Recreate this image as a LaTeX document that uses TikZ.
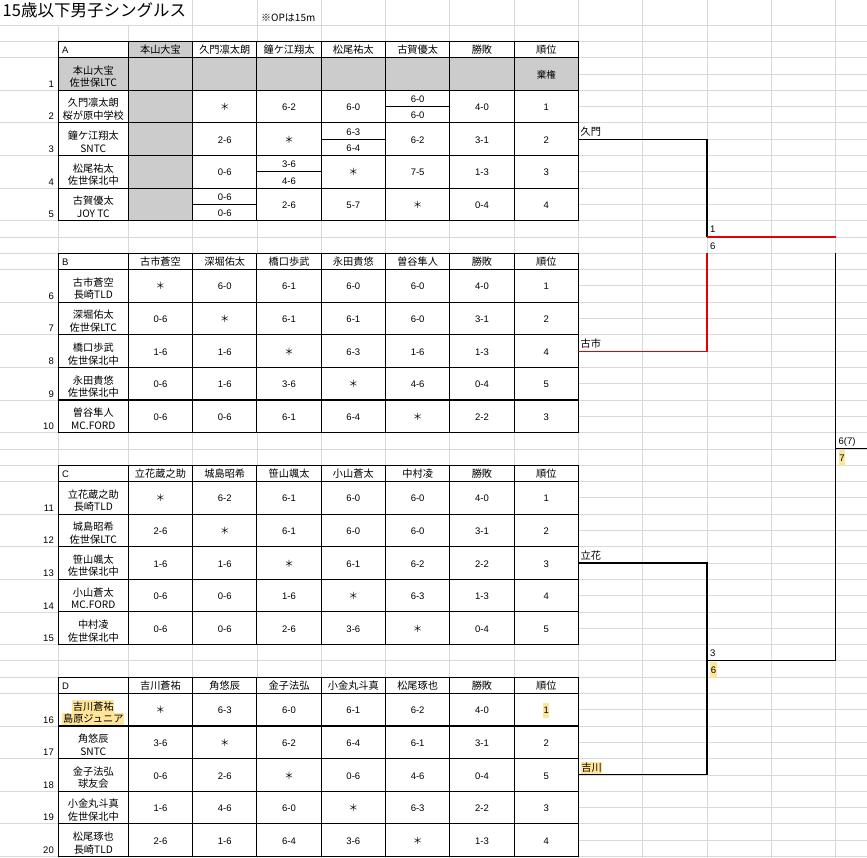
\documentclass[tikz,border=0pt]{standalone}
\usepackage{fontspec}
\setmainfont{Liberation Sans}
\newfontfamily\jp{Noto Sans CJK JP}
\definecolor{gridc}{RGB}{217,217,217}
\definecolor{cellgray}{RGB}{204,204,204}
\definecolor{hlc}{RGB}{255,229,153}
\definecolor{bred}{RGB}{230,0,0}
\newcommand\st{{\jp ＊}}
\tikzset{
  txt/.style={inner sep=0pt, text height=0.72em, text depth=0pt, font=\fontsize{9.5}{11}\selectfont},
  jt/.style={inner sep=0pt, text height=0.72em, text depth=0pt, font=\jp\fontsize{10.2}{12}\selectfont},
  rn/.style={txt, anchor=east},
  hilite/.style={fill=hlc, inner xsep=0.6pt, inner ysep=2.5pt},
  tline/.style={line width=1.1pt, black, line cap=rect},
  gline/.style={line width=0.8pt, gridc},
  bline/.style={line width=1.1pt, black},
}
% y of sheet line k : 25.1+16.3*k
\newcommand\Header[7]{%
  \node[txt,anchor=west] (hd#2) at (62,{25.1+16.3*(#1+0.5)+0.8}) {#2};
  \foreach \nm [count=\i from 0] in {#3,#4,#5,#6,#7,勝敗,順位}
    \node[jt] (hd#2\i) at ({160.45+64.3*\i},{25.1+16.3*(#1+0.5)+0.8}) {\nm};
}
\newcommand\Name[4]{%
  \node[rn] (rn#2) at (54,{25.1+16.3*#1-6.5}) {#2};
  \node[jt] (na#2) at (93.3,{25.1+16.3*#1-19.5}) {#3};
  \node[jt] (cl#2) at (93.3,{25.1+16.3*#1-7}) {#4};
}
\newcommand\Scores[8]{%
  \foreach \v [count=\i from 0] in {#2,#3,#4,#5,#6,#7,#8}
    \node[txt] (sc#1-\i) at ({160.45+64.3*\i},{25.1+16.3*(#1+1)+0.5}) {\v};
}
\newcommand\Split[4]{% #1 top k, #2 column index, #3 upper, #4 lower
  \draw[tline] ({128.3+64.3*#2},{25.1+16.3*(#1+1)}) -- ({192.6+64.3*#2},{25.1+16.3*(#1+1)});
  \node[txt] (sp#1a) at ({160.45+64.3*#2},{25.1+16.3*(#1+0.5)+0.5}) {#3};
  \node[txt] (sp#1b) at ({160.45+64.3*#2},{25.1+16.3*(#1+1.5)+0.5}) {#4};
}
\newcommand\TableBG[1]{%
  \fill[white] (58.3,{25.1+16.3*#1}) rectangle (578.4,{25.1+16.3*(#1+11)});
}
\newcommand\TableLines[1]{%
  \foreach \x in {58.3,128.3,192.6,256.9,321.2,385.5,449.8,514.1,578.4}
    \draw[tline] (\x,{25.1+16.3*#1}) -- (\x,{25.1+16.3*(#1+11)});
  \foreach \d in {0,1,3,5,7,9,11}
    \draw[tline] (58.3,{25.1+16.3*(#1+\d)}) -- (578.4,{25.1+16.3*(#1+\d)});
}
\begin{document}
\begin{tikzpicture}[x=1pt,y=-1pt]
\useasboundingbox (0,0) rectangle (867,858);
\fill[white] (0,0) rectangle (867,858);
% sheet grid
\foreach \k in {0,...,51}
  \draw[gline] (0,{25.1+16.3*\k}) -- (867,{25.1+16.3*\k});
\foreach \x in {192.6,256.9,321.2,385.5,449.8,514.1,578.4,642.7,707,771.3,835.6}
  \draw[gline] (\x,0) -- (\x,858);
\foreach \x in {58.3,128.3}
  \draw[gline] (\x,25.1) -- (\x,858);
\foreach \k in {3,5,7,9,11,16,18,20,22,24,29,31,33,35,37,42,44,46,48,50}
  \fill[white] (-1,{25.1+16.3*\k-1.2}) rectangle (57.7,{25.1+16.3*\k+1.2});
% title
\node[inner sep=0pt, anchor=west, text height=0.72em, text depth=0pt, font=\jp\fontsize{16.5}{18}\selectfont] (title) at (2.5,13) {15歳以下男子シングルス};
\node[inner sep=0pt, anchor=west, text height=0.72em, text depth=0pt, font=\jp\fontsize{10}{12}\selectfont] (note) at (261,17.5) {※OPは15m};
% tables background
\TableBG{1}\TableBG{14}\TableBG{27}\TableBG{40}
\fill[cellgray] (58.3,{25.1+16.3*2}) rectangle (578.4,{25.1+16.3*4});
\fill[cellgray] (128.3,{25.1+16.3*1}) rectangle (192.6,{25.1+16.3*12});
\TableLines{1}\TableLines{14}\TableLines{27}\TableLines{40}
% ---- table A
\Header{1}{A}{本山大宝}{久門凛太朗}{鐘ケ江翔太}{松尾祐太}{古賀優太}
\Name{4}{1}{本山大宝}{佐世保LTC}
\Scores{2}{}{}{}{}{}{}{\jp 棄権}
\Name{6}{2}{久門凛太朗}{桜が原中学校}
\Scores{4}{}{\st}{6-2}{6-0}{}{4-0}{1}
\Split{4}{4}{6-0}{6-0}
\Name{8}{3}{鐘ケ江翔太}{SNTC}
\Scores{6}{}{2-6}{\st}{}{6-2}{3-1}{2}
\Split{6}{3}{6-3}{6-4}
\Name{10}{4}{松尾祐太}{佐世保北中}
\Scores{8}{}{0-6}{}{\st}{7-5}{1-3}{3}
\Split{8}{2}{3-6}{4-6}
\Name{12}{5}{古賀優太}{JOY TC}
\Scores{10}{}{}{2-6}{5-7}{\st}{0-4}{4}
\Split{10}{1}{0-6}{0-6}
% ---- table B
\Header{14}{B}{古市蒼空}{深堀佑太}{橋口歩武}{永田貴悠}{曽谷隼人}
\Name{17}{6}{古市蒼空}{長崎TLD}
\Scores{15}{\st}{6-0}{6-1}{6-0}{6-0}{4-0}{1}
\Name{19}{7}{深堀佑太}{佐世保LTC}
\Scores{17}{0-6}{\st}{6-1}{6-1}{6-0}{3-1}{2}
\Name{21}{8}{橋口歩武}{佐世保北中}
\Scores{19}{1-6}{1-6}{\st}{6-3}{1-6}{1-3}{4}
\Name{23}{9}{永田貴悠}{佐世保北中}
\Scores{21}{0-6}{1-6}{3-6}{\st}{4-6}{0-4}{5}
\Name{25}{10}{曽谷隼人}{MC.FORD}
\Scores{23}{0-6}{0-6}{6-1}{6-4}{\st}{2-2}{3}
% ---- table C
\Header{27}{C}{立花蔵之助}{城島昭希}{笹山颯太}{小山蒼太}{中村凌}
\Name{30}{11}{立花蔵之助}{長崎TLD}
\Scores{28}{\st}{6-2}{6-1}{6-0}{6-0}{4-0}{1}
\Name{32}{12}{城島昭希}{佐世保LTC}
\Scores{30}{2-6}{\st}{6-1}{6-0}{6-0}{3-1}{2}
\Name{34}{13}{笹山颯太}{佐世保北中}
\Scores{32}{1-6}{1-6}{\st}{6-1}{6-2}{2-2}{3}
\Name{36}{14}{小山蒼太}{MC.FORD}
\Scores{34}{0-6}{0-6}{1-6}{\st}{6-3}{1-3}{4}
\Name{38}{15}{中村凌}{佐世保北中}
\Scores{36}{0-6}{0-6}{2-6}{3-6}{\st}{0-4}{5}
% ---- table D
\Header{40}{D}{吉川蒼祐}{角悠辰}{金子法弘}{小金丸斗真}{松尾琢也}
\node[rn] (rn16) at (54,{25.1+16.3*43-6.5}) {16};
\node[jt,hilite] (na16) at (93.3,{25.1+16.3*43-19.5}) {吉川蒼祐};
\node[jt,hilite] (cl16) at (93.3,{25.1+16.3*43-7}) {島原ジュニア};
\Scores{41}{\st}{6-3}{6-0}{6-1}{6-2}{4-0}{}
\node[txt,hilite,inner ysep=4pt] (rk16) at (546.25,{25.1+16.3*42+0.5}) {1};
\Name{45}{17}{角悠辰}{SNTC}
\Scores{43}{3-6}{\st}{6-2}{6-4}{6-1}{3-1}{2}
\Name{47}{18}{金子法弘}{球友会}
\Scores{45}{0-6}{2-6}{\st}{0-6}{4-6}{0-4}{5}
\Name{49}{19}{小金丸斗真}{佐世保北中}
\Scores{47}{1-6}{4-6}{6-0}{\st}{6-3}{2-2}{3}
\Name{51}{20}{松尾琢也}{長崎TLD}
\Scores{49}{2-6}{1-6}{6-4}{3-6}{\st}{1-3}{4}
% ---- bracket
\coordinate (a1) at (578.4,{25.1+16.3*7});
\coordinate (a2) at (707,{25.1+16.3*7});
\coordinate (a3) at (707,{25.1+16.3*13});
\coordinate (a4) at (835.6,{25.1+16.3*13});
\coordinate (b1) at (578.4,{25.1+16.3*20});
\coordinate (b2) at (707,{25.1+16.3*20});
\coordinate (b3) at (707,{25.1+16.3*14});
\coordinate (c1) at (578.4,{25.1+16.3*33});
\coordinate (c2) at (707,{25.1+16.3*33});
\coordinate (d1) at (578.4,{25.1+16.3*46});
\coordinate (d2) at (707,{25.1+16.3*46});
\coordinate (cd) at (707,{25.1+16.3*39});
\coordinate (f1) at (835.6,{25.1+16.3*39});
\coordinate (f2) at (835.6,{25.1+16.3*14});
\coordinate (g1) at (835.6,{25.1+16.3*26});
\coordinate (g2) at (867,{25.1+16.3*26});
\draw[bline] (a1) -- (a2) -- (a3);
\draw[bred, line width=2.4pt] (a3) -- (a4);
\draw[bred, line width=1.1pt] (b1) -- (b2) -- (b3);
\draw[bline] (c1) -- (c2) -- (d2) -- (d1);
\draw[bline] (cd) -- (f1) -- (f2);
\draw[bline] (g1) -- (g2);
% bracket labels
\node[jt,anchor=west] (lkumon) at (580.5,{25.1+16.3*6.5+1}) {久門};
\node[jt,anchor=west] (lfuru) at (580.5,{25.1+16.3*19.5+1}) {古市};
\node[jt,anchor=west] (ltachi) at (580.5,{25.1+16.3*32.5+1}) {立花};
\node[jt,anchor=west,hilite] (lyoshi) at (580.5,{25.1+16.3*45.5+1}) {吉川};
\node[txt,anchor=west] (s1a) at (710,{25.1+16.3*12.5+0.5}) {1};
\node[txt,anchor=west] (s1b) at (710,{25.1+16.3*13.5+1}) {6};
\node[txt,anchor=west] (s2a) at (710,{25.1+16.3*38.5+0.5}) {3};
\node[txt,anchor=west,hilite,inner ysep=4pt] (s2b) at (710,{25.1+16.3*39.5+1}) {6};
\node[txt,anchor=west] (s3a) at (838.5,{25.1+16.3*25.5+0.5}) {6(7)};
\node[txt,anchor=west,hilite,inner ysep=4pt] (s3b) at (838.5,{25.1+16.3*26.5+1}) {7};
\end{tikzpicture}
\end{document}
